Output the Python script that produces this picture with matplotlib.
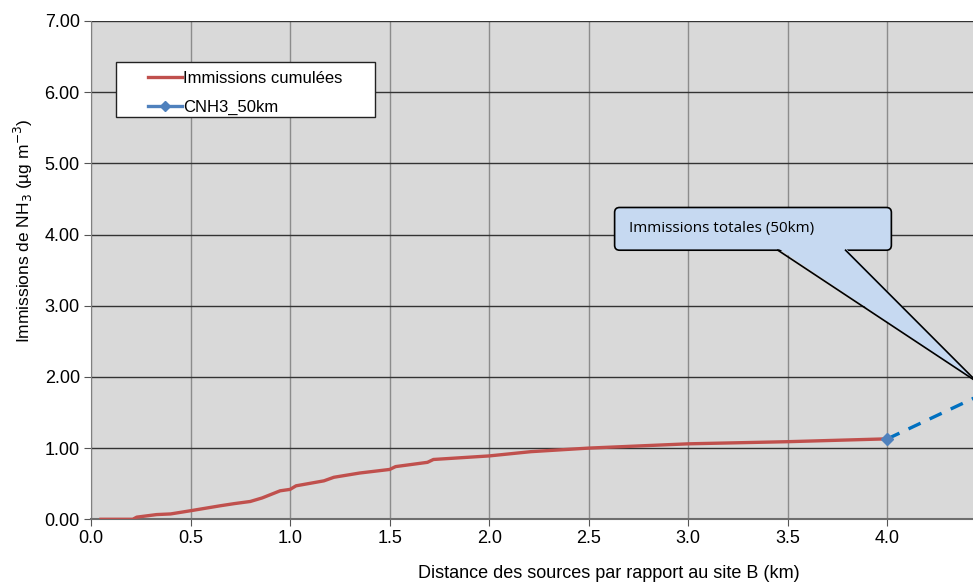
import numpy as np
import matplotlib.pyplot as plt
from matplotlib.patches import FancyBboxPatch, Polygon, Rectangle
from matplotlib.lines import Line2D

plt.rcParams['font.family'] = ['Liberation Sans', 'DejaVu Sans']

# cumulative immissions (km, ug/m3)
dist_km = [0.05, 0.21, 0.23, 0.33, 0.40, 0.50, 0.65, 0.72, 0.80, 0.86, 0.95, 1.00,
           1.03, 1.17, 1.22, 1.35, 1.50, 1.53, 1.69, 1.72, 2.00, 2.21, 2.50, 3.00,
           3.50, 4.00]
immissions = [0.0, 0.0, 0.03, 0.066, 0.075, 0.12, 0.19, 0.22, 0.25, 0.30, 0.40, 0.42,
              0.47, 0.54, 0.59, 0.65, 0.70, 0.74, 0.80, 0.84, 0.89, 0.95, 1.00, 1.06,
              1.09, 1.13]

# CNH3_50km series: last cumulative point and extension towards 50 km total
cnh3_x = [4.00, 4.60]
cnh3_y = [1.13, 1.92]

callout_text = "Immissions totales (50km)"
callout_tip = (4.45, 1.93)

fig = plt.figure(figsize=(9.73, 5.83), dpi=100)
ax = fig.add_axes([0.0935, 0.1093, 0.9065, 0.8547])
ax.set_facecolor('#d9d9d9')

ax.set_xlim(0, 4.43)
ax.set_ylim(0, 7)
ax.set_xticks(np.arange(0, 4.01, 0.5))
ax.set_yticks(np.arange(0, 7.01, 1.0))
ax.set_xticklabels([f"{v:.1f}" for v in np.arange(0, 4.01, 0.5)])
ax.set_yticklabels([f"{v:.2f}" for v in np.arange(0, 7.01, 1.0)])
ax.tick_params(labelsize=13, length=5, color='#555555', pad=3)

ax.xaxis.grid(True, color='#8c8c8c', lw=1.0)
ax.yaxis.grid(True, color='#333333', lw=1.0)
ax.set_axisbelow(True)

for s in ['top', 'right']:
    ax.spines[s].set_visible(False)
ax.spines['left'].set_color('#808080')
ax.spines['bottom'].set_color('#6e6e6e')
ax.spines['bottom'].set_linewidth(1.5)

ax.plot(dist_km, immissions, color='#c0504d', lw=2.4, zorder=3)
ax.plot(cnh3_x, cnh3_y, color='#0070c0', lw=2.4, dashes=(4, 3), zorder=3)
ax.plot(cnh3_x[0], cnh3_y[0], marker='D', color='#4f81bd', ms=6, zorder=4)

ax.set_xlabel("Distance des sources par rapport au site B (km)", fontsize=13)
ax.xaxis.set_label_coords(0.587, -0.091)
ax.set_ylabel("Immissions de NH$_3$ (µg m$^{-3}$)", fontsize=12.5)
ax.yaxis.set_label_coords(-0.064, 0.579)

# legend with its own white frame
ax.add_patch(Rectangle((0.028, 0.808), 0.294, 0.110, transform=ax.transAxes,
                       facecolor='white', edgecolor='#222222', lw=1.0, zorder=5))
handles = [Line2D([], [], color='#c0504d', lw=2.4),
           Line2D([], [], color='#4f81bd', lw=2.4, marker='D', ms=5)]
leg = ax.legend(handles, ["Immissions cumulées", "CNH3_50km"], loc='upper left',
                bbox_to_anchor=(0.065, 0.900), frameon=False, fontsize=12,
                handlelength=2.0, handletextpad=0.1, labelspacing=0.85,
                borderaxespad=0, borderpad=0)
leg.set_zorder(6)

# callout box with pointer
x0, x1, y0, y1 = 2.63, 4.02, 3.78, 4.38
r = 0.025
box = FancyBboxPatch((x0, y0), x1 - x0, y1 - y0,
                     boxstyle=f"round,pad=0,rounding_size={r}",
                     mutation_aspect=199 / 71, facecolor='#c6d9f1',
                     edgecolor='black', lw=1.2, zorder=7, clip_on=False)
ax.add_patch(box)
b1, b2 = 3.45, 3.79
ax.add_patch(Polygon([(b1, y0 + 0.03), (b2, y0 + 0.03), callout_tip], closed=True,
                     facecolor='#c6d9f1', edgecolor='none', zorder=8, clip_on=False))
ax.plot([b1, callout_tip[0]], [y0, callout_tip[1]], color='black', lw=1.2,
        zorder=9, clip_on=False)
ax.plot([b2, callout_tip[0]], [y0, callout_tip[1]], color='black', lw=1.2,
        zorder=9, clip_on=False)
ax.text(x0 + 0.07, y1 - 0.29, callout_text, family='Open Sans', fontsize=11,
        va='center', ha='left', zorder=10)

fig.savefig('out.png', dpi=100)
